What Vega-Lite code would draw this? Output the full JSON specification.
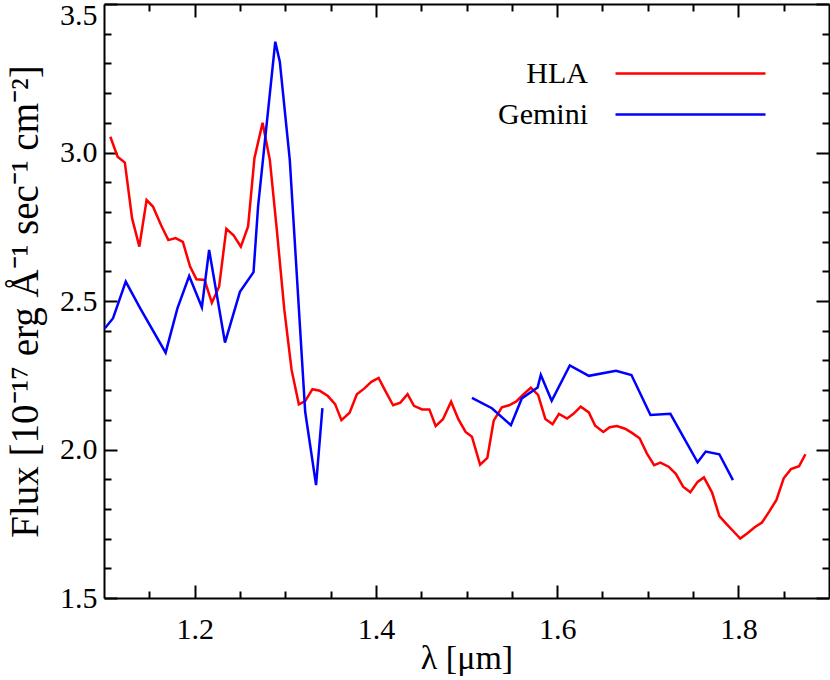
{
  "$schema": "https://vega.github.io/schema/vega-lite/v6.json",
  "width": 725,
  "height": 594,
  "autosize": {"type": "none"},
  "padding": {"left": 104, "top": 4, "right": 1, "bottom": 82},
  "background": "white",
  "config": {
    "view": {"stroke": null},
    "font": "Liberation Serif",
    "axis": {
      "grid": false,
      "labelFont": "Liberation Serif",
      "titleFont": "Liberation Serif",
      "labelColor": "black",
      "titleColor": "black",
      "domainColor": "black",
      "tickColor": "black",
      "labelFontSize": 30,
      "titleFontSize": 30,
      "titleFontWeight": "normal",
      "domainWidth": 2,
      "tickWidth": 2
    }
  },
  "data": {
    "values": [
      {"series": "HLA", "part": "h", "lambda": 1.107, "flux": 3.053},
      {"series": "HLA", "part": "h", "lambda": 1.115, "flux": 2.986},
      {"series": "HLA", "part": "h", "lambda": 1.123, "flux": 2.966},
      {"series": "HLA", "part": "h", "lambda": 1.131, "flux": 2.778},
      {"series": "HLA", "part": "h", "lambda": 1.139, "flux": 2.683},
      {"series": "HLA", "part": "h", "lambda": 1.147, "flux": 2.840},
      {"series": "HLA", "part": "h", "lambda": 1.154, "flux": 2.818},
      {"series": "HLA", "part": "h", "lambda": 1.163, "flux": 2.755},
      {"series": "HLA", "part": "h", "lambda": 1.171, "flux": 2.705},
      {"series": "HLA", "part": "h", "lambda": 1.179, "flux": 2.712},
      {"series": "HLA", "part": "h", "lambda": 1.187, "flux": 2.699},
      {"series": "HLA", "part": "h", "lambda": 1.195, "flux": 2.616},
      {"series": "HLA", "part": "h", "lambda": 1.202, "flux": 2.573},
      {"series": "HLA", "part": "h", "lambda": 1.211, "flux": 2.571},
      {"series": "HLA", "part": "h", "lambda": 1.219, "flux": 2.494},
      {"series": "HLA", "part": "h", "lambda": 1.227, "flux": 2.548},
      {"series": "HLA", "part": "h", "lambda": 1.235, "flux": 2.743},
      {"series": "HLA", "part": "h", "lambda": 1.243, "flux": 2.721},
      {"series": "HLA", "part": "h", "lambda": 1.251, "flux": 2.683},
      {"series": "HLA", "part": "h", "lambda": 1.259, "flux": 2.751},
      {"series": "HLA", "part": "h", "lambda": 1.266, "flux": 2.981},
      {"series": "HLA", "part": "h", "lambda": 1.275, "flux": 3.100},
      {"series": "HLA", "part": "h", "lambda": 1.283, "flux": 2.975},
      {"series": "HLA", "part": "h", "lambda": 1.291, "flux": 2.730},
      {"series": "HLA", "part": "h", "lambda": 1.299, "flux": 2.470},
      {"series": "HLA", "part": "h", "lambda": 1.307, "flux": 2.268},
      {"series": "HLA", "part": "h", "lambda": 1.315, "flux": 2.152},
      {"series": "HLA", "part": "h", "lambda": 1.322, "flux": 2.163},
      {"series": "HLA", "part": "h", "lambda": 1.330, "flux": 2.203},
      {"series": "HLA", "part": "h", "lambda": 1.338, "flux": 2.198},
      {"series": "HLA", "part": "h", "lambda": 1.347, "flux": 2.180},
      {"series": "HLA", "part": "h", "lambda": 1.355, "flux": 2.153},
      {"series": "HLA", "part": "h", "lambda": 1.362, "flux": 2.099},
      {"series": "HLA", "part": "h", "lambda": 1.371, "flux": 2.124},
      {"series": "HLA", "part": "h", "lambda": 1.379, "flux": 2.186},
      {"series": "HLA", "part": "h", "lambda": 1.387, "flux": 2.205},
      {"series": "HLA", "part": "h", "lambda": 1.395, "flux": 2.228},
      {"series": "HLA", "part": "h", "lambda": 1.403, "flux": 2.241},
      {"series": "HLA", "part": "h", "lambda": 1.410, "flux": 2.200},
      {"series": "HLA", "part": "h", "lambda": 1.419, "flux": 2.149},
      {"series": "HLA", "part": "h", "lambda": 1.427, "flux": 2.158},
      {"series": "HLA", "part": "h", "lambda": 1.435, "flux": 2.186},
      {"series": "HLA", "part": "h", "lambda": 1.442, "flux": 2.147},
      {"series": "HLA", "part": "h", "lambda": 1.451, "flux": 2.135},
      {"series": "HLA", "part": "h", "lambda": 1.459, "flux": 2.135},
      {"series": "HLA", "part": "h", "lambda": 1.466, "flux": 2.079},
      {"series": "HLA", "part": "h", "lambda": 1.474, "flux": 2.102},
      {"series": "HLA", "part": "h", "lambda": 1.483, "flux": 2.161},
      {"series": "HLA", "part": "h", "lambda": 1.491, "flux": 2.102},
      {"series": "HLA", "part": "h", "lambda": 1.499, "flux": 2.059},
      {"series": "HLA", "part": "h", "lambda": 1.506, "flux": 2.043},
      {"series": "HLA", "part": "h", "lambda": 1.515, "flux": 1.949},
      {"series": "HLA", "part": "h", "lambda": 1.523, "flux": 1.972},
      {"series": "HLA", "part": "h", "lambda": 1.530, "flux": 2.097},
      {"series": "HLA", "part": "h", "lambda": 1.539, "flux": 2.142},
      {"series": "HLA", "part": "h", "lambda": 1.547, "flux": 2.149},
      {"series": "HLA", "part": "h", "lambda": 1.555, "flux": 2.162},
      {"series": "HLA", "part": "h", "lambda": 1.563, "flux": 2.186},
      {"series": "HLA", "part": "h", "lambda": 1.571, "flux": 2.208},
      {"series": "HLA", "part": "h", "lambda": 1.579, "flux": 2.184},
      {"series": "HLA", "part": "h", "lambda": 1.587, "flux": 2.103},
      {"series": "HLA", "part": "h", "lambda": 1.595, "flux": 2.085},
      {"series": "HLA", "part": "h", "lambda": 1.602, "flux": 2.120},
      {"series": "HLA", "part": "h", "lambda": 1.611, "flux": 2.104},
      {"series": "HLA", "part": "h", "lambda": 1.618, "flux": 2.120},
      {"series": "HLA", "part": "h", "lambda": 1.626, "flux": 2.144},
      {"series": "HLA", "part": "h", "lambda": 1.635, "flux": 2.125},
      {"series": "HLA", "part": "h", "lambda": 1.642, "flux": 2.080},
      {"series": "HLA", "part": "h", "lambda": 1.651, "flux": 2.059},
      {"series": "HLA", "part": "h", "lambda": 1.658, "flux": 2.075},
      {"series": "HLA", "part": "h", "lambda": 1.666, "flux": 2.079},
      {"series": "HLA", "part": "h", "lambda": 1.675, "flux": 2.070},
      {"series": "HLA", "part": "h", "lambda": 1.683, "flux": 2.055},
      {"series": "HLA", "part": "h", "lambda": 1.691, "flux": 2.038},
      {"series": "HLA", "part": "h", "lambda": 1.699, "flux": 1.987},
      {"series": "HLA", "part": "h", "lambda": 1.707, "flux": 1.947},
      {"series": "HLA", "part": "h", "lambda": 1.714, "flux": 1.956},
      {"series": "HLA", "part": "h", "lambda": 1.723, "flux": 1.942},
      {"series": "HLA", "part": "h", "lambda": 1.731, "flux": 1.918},
      {"series": "HLA", "part": "h", "lambda": 1.739, "flux": 1.875},
      {"series": "HLA", "part": "h", "lambda": 1.747, "flux": 1.856},
      {"series": "HLA", "part": "h", "lambda": 1.755, "flux": 1.891},
      {"series": "HLA", "part": "h", "lambda": 1.762, "flux": 1.906},
      {"series": "HLA", "part": "h", "lambda": 1.771, "flux": 1.855},
      {"series": "HLA", "part": "h", "lambda": 1.779, "flux": 1.776},
      {"series": "HLA", "part": "h", "lambda": 1.787, "flux": 1.749},
      {"series": "HLA", "part": "h", "lambda": 1.795, "flux": 1.723},
      {"series": "HLA", "part": "h", "lambda": 1.802, "flux": 1.700},
      {"series": "HLA", "part": "h", "lambda": 1.810, "flux": 1.718},
      {"series": "HLA", "part": "h", "lambda": 1.818, "flux": 1.738},
      {"series": "HLA", "part": "h", "lambda": 1.826, "flux": 1.754},
      {"series": "HLA", "part": "h", "lambda": 1.834, "flux": 1.791},
      {"series": "HLA", "part": "h", "lambda": 1.842, "flux": 1.830},
      {"series": "HLA", "part": "h", "lambda": 1.850, "flux": 1.903},
      {"series": "HLA", "part": "h", "lambda": 1.858, "flux": 1.934},
      {"series": "HLA", "part": "h", "lambda": 1.867, "flux": 1.944},
      {"series": "HLA", "part": "h", "lambda": 1.874, "flux": 1.984},
      {"series": "Gemini", "part": "g1", "lambda": 1.101, "flux": 2.408},
      {"series": "Gemini", "part": "g1", "lambda": 1.110, "flux": 2.442},
      {"series": "Gemini", "part": "g1", "lambda": 1.124, "flux": 2.565},
      {"series": "Gemini", "part": "g1", "lambda": 1.140, "flux": 2.475},
      {"series": "Gemini", "part": "g1", "lambda": 1.168, "flux": 2.326},
      {"series": "Gemini", "part": "g1", "lambda": 1.181, "flux": 2.475},
      {"series": "Gemini", "part": "g1", "lambda": 1.194, "flux": 2.584},
      {"series": "Gemini", "part": "g1", "lambda": 1.208, "flux": 2.479},
      {"series": "Gemini", "part": "g1", "lambda": 1.216, "flux": 2.672},
      {"series": "Gemini", "part": "g1", "lambda": 1.2335, "flux": 2.360},
      {"series": "Gemini", "part": "g1", "lambda": 1.250, "flux": 2.531},
      {"series": "Gemini", "part": "g1", "lambda": 1.265, "flux": 2.597},
      {"series": "Gemini", "part": "g1", "lambda": 1.270, "flux": 2.818},
      {"series": "Gemini", "part": "g1", "lambda": 1.289, "flux": 3.373},
      {"series": "Gemini", "part": "g1", "lambda": 1.294, "flux": 3.306},
      {"series": "Gemini", "part": "g1", "lambda": 1.305, "flux": 2.975},
      {"series": "Gemini", "part": "g1", "lambda": 1.322, "flux": 2.127},
      {"series": "Gemini", "part": "g1", "lambda": 1.334, "flux": 1.880},
      {"series": "Gemini", "part": "g1", "lambda": 1.341, "flux": 2.139},
      {"series": "Gemini", "part": "g2", "lambda": 1.506, "flux": 2.174},
      {"series": "Gemini", "part": "g2", "lambda": 1.528, "flux": 2.139},
      {"series": "Gemini", "part": "g2", "lambda": 1.549, "flux": 2.082},
      {"series": "Gemini", "part": "g2", "lambda": 1.561, "flux": 2.172},
      {"series": "Gemini", "part": "g2", "lambda": 1.5785, "flux": 2.209},
      {"series": "Gemini", "part": "g2", "lambda": 1.582, "flux": 2.251},
      {"series": "Gemini", "part": "g2", "lambda": 1.594, "flux": 2.164},
      {"series": "Gemini", "part": "g2", "lambda": 1.614, "flux": 2.283},
      {"series": "Gemini", "part": "g2", "lambda": 1.635, "flux": 2.248},
      {"series": "Gemini", "part": "g2", "lambda": 1.665, "flux": 2.265},
      {"series": "Gemini", "part": "g2", "lambda": 1.682, "flux": 2.251},
      {"series": "Gemini", "part": "g2", "lambda": 1.703, "flux": 2.116},
      {"series": "Gemini", "part": "g2", "lambda": 1.725, "flux": 2.120},
      {"series": "Gemini", "part": "g2", "lambda": 1.755, "flux": 1.957},
      {"series": "Gemini", "part": "g2", "lambda": 1.764, "flux": 1.993},
      {"series": "Gemini", "part": "g2", "lambda": 1.779, "flux": 1.984},
      {"series": "Gemini", "part": "g2", "lambda": 1.794, "flux": 1.897}
    ]
  },
  "layer": [
    {
      "mark": {"type": "line", "strokeWidth": 2.5, "clip": true},
      "encoding": {
        "x": {"field": "lambda", "type": "quantitative",
              "scale": {"domain": [1.1, 1.9], "nice": false, "zero": false},
              "axis": {"orient": "bottom", "values": [1.2, 1.4, 1.6, 1.8], "format": ".1f",
                       "labelFont": "Liberation Serif", "labelFontSize": 30,
                       "titleFont": "Liberation Serif", "titleFontSize": 34,
                       "tickSize": -13, "labelPadding": 29, "title": "λ [μm]",
                       "titleBaseline": "alphabetic", "titleY": 70, "domain": true}},
        "y": {"field": "flux", "type": "quantitative",
              "scale": {"domain": [1.5, 3.5], "nice": false, "zero": false},
              "axis": {"orient": "left", "values": [1.5, 2.0, 2.5, 3.0], "format": ".1f",
                       "labelFont": "Liberation Serif", "labelFontSize": 30,
                       "titleFont": "Liberation Serif", "titleFontSize": 39,
                       "tickSize": -13, "labelPadding": 20,
                       "title": "Flux [10⁻¹⁷ erg Å⁻¹ sec⁻¹ cm⁻²]",
                       "titleAngle": -90, "titleBaseline": "alphabetic", "titleX": -67,
                       "titleLimit": 0, "domain": true}},
        "color": {"field": "series", "type": "nominal",
                  "scale": {"domain": ["HLA", "Gemini"], "range": ["#ff0000", "#0000ff"]},
                  "legend": {"orient": "none", "legendX": 570, "legendY": 53, "title": null,
                             "symbolType": "M-5,0H5", "symbolSize": 900, "symbolStrokeWidth": 2.5,
                             "labelFont": "Liberation Serif", "labelFontSize": 30, "labelColor": "black",
                             "labelAlign": "right", "labelOffset": -119, "labelLimit": 0,
                             "rowPadding": 9, "padding": 0}},
        "detail": {"field": "part", "type": "nominal"}
      }
    },
    {
      "mark": {"type": "line", "opacity": 0},
      "encoding": {
        "x": {"field": "lambda", "type": "quantitative",
              "axis": {"orient": "bottom", "values": [1.15, 1.25, 1.3, 1.35, 1.45, 1.5, 1.55, 1.65, 1.7, 1.75, 1.85],
                       "tickSize": -7, "labels": false, "domain": false, "title": null}},
        "y": {"field": "flux", "type": "quantitative",
              "axis": {"orient": "left", "values": [1.6, 1.7, 1.8, 1.9, 2.1, 2.2, 2.3, 2.4, 2.6, 2.7, 2.8, 2.9, 3.1, 3.2, 3.3, 3.4],
                       "tickSize": -7, "labels": false, "domain": false, "title": null}},
        "detail": {"field": "part", "type": "nominal"}
      }
    },
    {
      "mark": {"type": "line", "opacity": 0},
      "encoding": {
        "x": {"field": "lambda", "type": "quantitative",
              "axis": {"orient": "top", "values": [1.2, 1.4, 1.6, 1.8],
                       "tickSize": -13, "labels": false, "domain": true, "title": null}},
        "y": {"field": "flux", "type": "quantitative",
              "axis": {"orient": "right", "values": [1.5, 2.0, 2.5, 3.0, 3.5],
                       "tickSize": -13, "labels": false, "domain": true, "title": null}},
        "detail": {"field": "part", "type": "nominal"}
      }
    },
    {
      "mark": {"type": "line", "opacity": 0},
      "encoding": {
        "x": {"field": "lambda", "type": "quantitative",
              "axis": {"orient": "top", "values": [1.15, 1.25, 1.3, 1.35, 1.45, 1.5, 1.55, 1.65, 1.7, 1.75, 1.85],
                       "tickSize": -7, "labels": false, "domain": false, "title": null}},
        "y": {"field": "flux", "type": "quantitative",
              "axis": {"orient": "right", "values": [1.6, 1.7, 1.8, 1.9, 2.1, 2.2, 2.3, 2.4, 2.6, 2.7, 2.8, 2.9, 3.1, 3.2, 3.3, 3.4],
                       "tickSize": -7, "labels": false, "domain": false, "title": null}},
        "detail": {"field": "part", "type": "nominal"}
      }
    },
    {
      "mark": {"type": "line", "opacity": 0},
      "encoding": {
        "x": {"field": "lambda", "type": "quantitative", "axis": null},
        "y": {"field": "flux", "type": "quantitative",
              "axis": {"orient": "left", "values": [3.5], "format": ".1f",
                       "labelFont": "Liberation Serif", "labelFontSize": 30,
                       "tickSize": -13, "labelPadding": 20, "labelOffset": 11,
                       "domain": false, "title": null}},
        "detail": {"field": "part", "type": "nominal"}
      }
    }
  ],
  "resolve": {"axis": {"x": "independent", "y": "independent"}}
}
